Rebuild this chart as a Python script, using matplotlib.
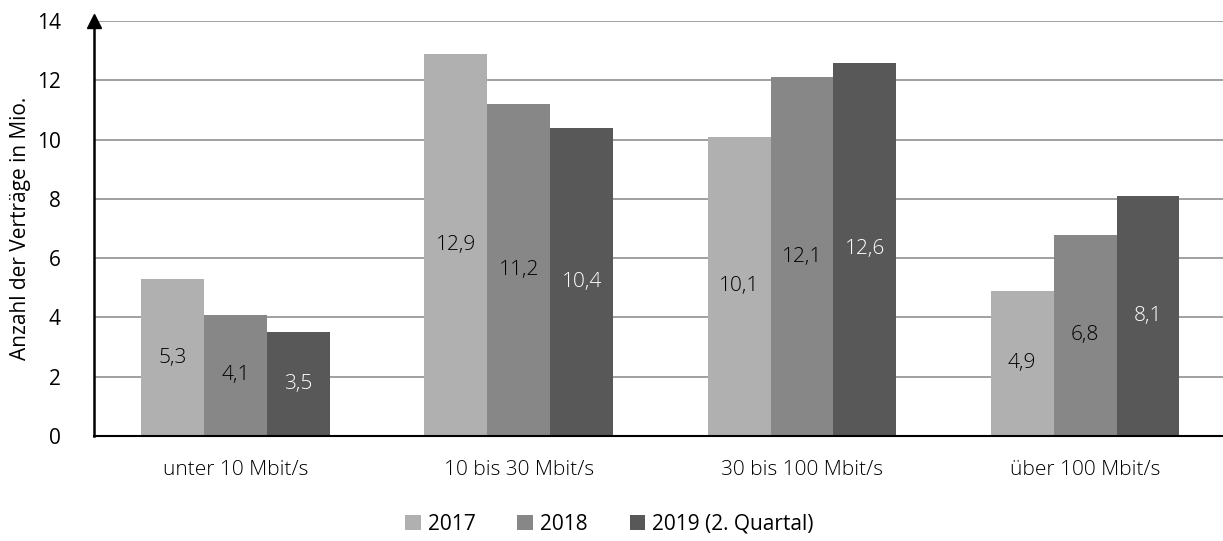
import numpy as np
import matplotlib.pyplot as plt

categories = ["unter 10 Mbit/s", "10 bis 30 Mbit/s", "30 bis 100 Mbit/s", "über 100 Mbit/s"]
series_names = ["2017", "2018", "2019 (2. Quartal)"]
values_2017 = [5.3, 12.9, 10.1, 4.9]
values_2018 = [4.1, 11.2, 12.1, 6.8]
values_2019 = [3.5, 10.4, 12.6, 8.1]
yticks = [0, 2, 4, 6, 8, 10, 12, 14]

colours = ["#b0b0b0", "#878787", "#585858"]
text_colours = ["black", "black", "white"]

plt.rcParams['font.family'] = ['Open Sans', 'DejaVu Sans']
fontsize_main = 15

fig = plt.figure(figsize=(12.23, 5.41), dpi=100)
ax = fig.add_axes([0.077, 0.194, 0.926, 0.767])

x = np.arange(len(categories))
width = 2 / 9
all_values = [values_2017, values_2018, values_2019]

for i, vals in enumerate(all_values):
    pos = x + (i - 1) * width
    bars = ax.bar(pos, vals, width, color=colours[i], label=series_names[i], zorder=3)
    for b, v in zip(bars, vals):
        ax.text(b.get_x() + b.get_width() / 2, v / 2, "{:.1f}".format(v).replace(".", ","),
                ha='center', va='center', fontsize=fontsize_main, color=text_colours[i],
                fontweight='light', zorder=4)

ax.set_xlim(-0.5, len(categories) - 0.5)
ax.set_ylim(0, 14)
ax.set_yticks(yticks)
ax.set_xticks(x)
ax.set_xticklabels(categories, fontsize=fontsize_main, fontweight='light')
ax.tick_params(axis='both', length=0, labelsize=fontsize_main)
ax.tick_params(axis='x', pad=17)
ax.tick_params(axis='y', pad=24)
ax.yaxis.grid(True, color='#999999', linewidth=1.3, zorder=0)

for s in ['top', 'right']:
    ax.spines[s].set_visible(False)
ax.spines['left'].set_linewidth(1.8)
ax.spines['bottom'].set_linewidth(1.5)
ax.spines['left'].set_zorder(5)
ax.spines['bottom'].set_zorder(5)

# arrow head on the y axis
ax.plot(-0.5, 14, marker='^', markersize=10, color='black', clip_on=False, zorder=6)

ax.set_ylabel("Anzahl der Verträge in Mio.", fontsize=fontsize_main, labelpad=4)

ax.legend(loc='upper center', bbox_to_anchor=(0.455, -0.142), ncol=3, frameon=False,
          fontsize=fontsize_main, handlelength=0.75, handleheight=0.75, handletextpad=0.35,
          columnspacing=2.0)

plt.savefig("out.png", dpi=100)
